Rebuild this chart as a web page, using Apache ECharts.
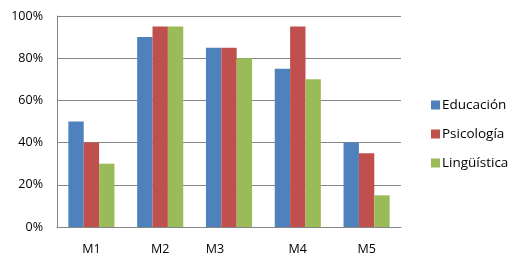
<!DOCTYPE html>
<html><head><meta charset="utf-8">
<script src="https://cdn.jsdelivr.net/npm/echarts@6/dist/echarts.min.js"></script>
<style>html,body{margin:0;padding:0;background:#fff}#c{width:523px;height:267px}</style>
</head><body><div id="c"></div>
<script>
var categories = ['M1','M2','M3','M4','M5'];
var educacion = [50, 90, 85, 75, 40];
var psicologia = [40, 95, 85, 95, 35];
var linguistica = [30, 95, 80, 70, 15];
var seriesNames = ['Educación','Psicología','Lingüística'];
var colors = ['#4F81BD','#C0504D','#9BBB59'];
var font = '"Open Sans", "Liberation Sans", sans-serif';
var chart = echarts.init(document.getElementById('c'), null, {renderer:'canvas'});
function bar(name, data, color){
  return {name:name, type:'bar', data:data, barGap:'0%', barCategoryGap:'33%',
    itemStyle:{color:color}, animation:false};
}
chart.setOption({
  animation:false,
  textStyle:{fontFamily:font},
  grid:{left:57, right:122, top:16, bottom:40},
  legend:{orient:'vertical', left:426, top:91, itemWidth:9, itemHeight:9, itemGap:11,
    icon:'rect', data:seriesNames,
    textStyle:{fontFamily:font, fontSize:13.5, lineHeight:18, color:'#000', padding:[0,0,0,-3]}},
  xAxis:{type:'category', data:categories,
    axisLine:{lineStyle:{color:'#868686'}}, axisTick:{show:false},
    axisLabel:{color:'#000', fontSize:12.5, fontFamily:font, margin:16,
      formatter:function(v){ return v==='M3' ? '{s|'+v+'}' : v; },
      rich:{s:{padding:[0,28,0,0], fontSize:12.5, fontFamily:font, color:'#000'}}}},
  yAxis:{type:'value', min:0, max:100, interval:20,
    axisLine:{show:true, lineStyle:{color:'#868686'}}, axisTick:{show:false},
    splitLine:{lineStyle:{color:'#868686'}},
    axisLabel:{color:'#000', fontSize:12.5, fontFamily:font, margin:14,
      formatter:function(v){return v+'%';}}},
  series:[bar(seriesNames[0], educacion, colors[0]), bar(seriesNames[1], psicologia, colors[1]), bar(seriesNames[2], linguistica, colors[2])]
});
</script></body></html>
